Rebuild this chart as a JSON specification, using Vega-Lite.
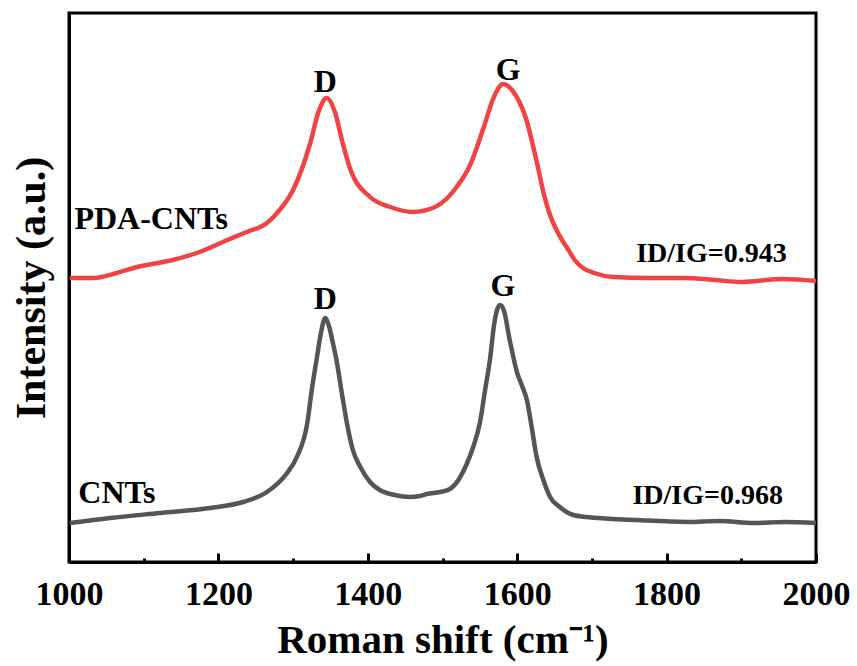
{
  "$schema": "https://vega.github.io/schema/vega-lite/v6.json",
  "width": 747,
  "height": 549,
  "autosize": {"type": "none"},
  "padding": {"left": 69, "top": 13, "right": 41, "bottom": 104},
  "background": "white",
  "config": {
    "view": {"stroke": "black", "strokeWidth": 3},
    "font": "Liberation Serif"
  },
  "datasets": {
    "spectra": [
      {"shift": 1001, "intensity": 284, "sample": "PDA-CNTs"},
      {"shift": 1032, "intensity": 284, "sample": "PDA-CNTs"},
      {"shift": 1064, "intensity": 289, "sample": "PDA-CNTs"},
      {"shift": 1091, "intensity": 295, "sample": "PDA-CNTs"},
      {"shift": 1139, "intensity": 302, "sample": "PDA-CNTs"},
      {"shift": 1175, "intensity": 310, "sample": "PDA-CNTs"},
      {"shift": 1212, "intensity": 322, "sample": "PDA-CNTs"},
      {"shift": 1238, "intensity": 330, "sample": "PDA-CNTs"},
      {"shift": 1265, "intensity": 339, "sample": "PDA-CNTs"},
      {"shift": 1282, "intensity": 352, "sample": "PDA-CNTs"},
      {"shift": 1300, "intensity": 372, "sample": "PDA-CNTs"},
      {"shift": 1323, "intensity": 419, "sample": "PDA-CNTs"},
      {"shift": 1334, "intensity": 450, "sample": "PDA-CNTs"},
      {"shift": 1345, "intensity": 464, "sample": "PDA-CNTs"},
      {"shift": 1356, "intensity": 450, "sample": "PDA-CNTs"},
      {"shift": 1366, "intensity": 420, "sample": "PDA-CNTs"},
      {"shift": 1376, "intensity": 394, "sample": "PDA-CNTs"},
      {"shift": 1403, "intensity": 365, "sample": "PDA-CNTs"},
      {"shift": 1430, "intensity": 355, "sample": "PDA-CNTs"},
      {"shift": 1460, "intensity": 350, "sample": "PDA-CNTs"},
      {"shift": 1490, "intensity": 355, "sample": "PDA-CNTs"},
      {"shift": 1519, "intensity": 375, "sample": "PDA-CNTs"},
      {"shift": 1537, "intensity": 397, "sample": "PDA-CNTs"},
      {"shift": 1554, "intensity": 432, "sample": "PDA-CNTs"},
      {"shift": 1570, "intensity": 467, "sample": "PDA-CNTs"},
      {"shift": 1581, "intensity": 478, "sample": "PDA-CNTs"},
      {"shift": 1593, "intensity": 472, "sample": "PDA-CNTs"},
      {"shift": 1603, "intensity": 460, "sample": "PDA-CNTs"},
      {"shift": 1612, "intensity": 443, "sample": "PDA-CNTs"},
      {"shift": 1620, "intensity": 420, "sample": "PDA-CNTs"},
      {"shift": 1628, "intensity": 394, "sample": "PDA-CNTs"},
      {"shift": 1635, "intensity": 370, "sample": "PDA-CNTs"},
      {"shift": 1643, "intensity": 349, "sample": "PDA-CNTs"},
      {"shift": 1652, "intensity": 333, "sample": "PDA-CNTs"},
      {"shift": 1660, "intensity": 322, "sample": "PDA-CNTs"},
      {"shift": 1667, "intensity": 314, "sample": "PDA-CNTs"},
      {"shift": 1677, "intensity": 302, "sample": "PDA-CNTs"},
      {"shift": 1688, "intensity": 294, "sample": "PDA-CNTs"},
      {"shift": 1703, "intensity": 289, "sample": "PDA-CNTs"},
      {"shift": 1728, "intensity": 285, "sample": "PDA-CNTs"},
      {"shift": 1778, "intensity": 284, "sample": "PDA-CNTs"},
      {"shift": 1822, "intensity": 284, "sample": "PDA-CNTs"},
      {"shift": 1865, "intensity": 282, "sample": "PDA-CNTs"},
      {"shift": 1898, "intensity": 280, "sample": "PDA-CNTs"},
      {"shift": 1956, "intensity": 283, "sample": "PDA-CNTs"},
      {"shift": 2000, "intensity": 281, "sample": "PDA-CNTs"},
      {"shift": 1001, "intensity": 39, "sample": "CNTs"},
      {"shift": 1055, "intensity": 44, "sample": "CNTs"},
      {"shift": 1122, "intensity": 49, "sample": "CNTs"},
      {"shift": 1189, "intensity": 54, "sample": "CNTs"},
      {"shift": 1233, "intensity": 60, "sample": "CNTs"},
      {"shift": 1265, "intensity": 70, "sample": "CNTs"},
      {"shift": 1292, "intensity": 89, "sample": "CNTs"},
      {"shift": 1305, "intensity": 105, "sample": "CNTs"},
      {"shift": 1319, "intensity": 139, "sample": "CNTs"},
      {"shift": 1325, "intensity": 172, "sample": "CNTs"},
      {"shift": 1332, "intensity": 205, "sample": "CNTs"},
      {"shift": 1337, "intensity": 228, "sample": "CNTs"},
      {"shift": 1343, "intensity": 244, "sample": "CNTs"},
      {"shift": 1348, "intensity": 236, "sample": "CNTs"},
      {"shift": 1353, "intensity": 220, "sample": "CNTs"},
      {"shift": 1359, "intensity": 198, "sample": "CNTs"},
      {"shift": 1365, "intensity": 170, "sample": "CNTs"},
      {"shift": 1372, "intensity": 139, "sample": "CNTs"},
      {"shift": 1380, "intensity": 112, "sample": "CNTs"},
      {"shift": 1390, "intensity": 95, "sample": "CNTs"},
      {"shift": 1403, "intensity": 80, "sample": "CNTs"},
      {"shift": 1416, "intensity": 72, "sample": "CNTs"},
      {"shift": 1436, "intensity": 67, "sample": "CNTs"},
      {"shift": 1456, "intensity": 65, "sample": "CNTs"},
      {"shift": 1470, "intensity": 66, "sample": "CNTs"},
      {"shift": 1479, "intensity": 68, "sample": "CNTs"},
      {"shift": 1497, "intensity": 70, "sample": "CNTs"},
      {"shift": 1510, "intensity": 73, "sample": "CNTs"},
      {"shift": 1523, "intensity": 84, "sample": "CNTs"},
      {"shift": 1533, "intensity": 99, "sample": "CNTs"},
      {"shift": 1542, "intensity": 117, "sample": "CNTs"},
      {"shift": 1550, "intensity": 139, "sample": "CNTs"},
      {"shift": 1557, "intensity": 172, "sample": "CNTs"},
      {"shift": 1564, "intensity": 205, "sample": "CNTs"},
      {"shift": 1569, "intensity": 237, "sample": "CNTs"},
      {"shift": 1573, "intensity": 252, "sample": "CNTs"},
      {"shift": 1577, "intensity": 257, "sample": "CNTs"},
      {"shift": 1582, "intensity": 252, "sample": "CNTs"},
      {"shift": 1590, "intensity": 222, "sample": "CNTs"},
      {"shift": 1600, "intensity": 189, "sample": "CNTs"},
      {"shift": 1606, "intensity": 177, "sample": "CNTs"},
      {"shift": 1613, "intensity": 162, "sample": "CNTs"},
      {"shift": 1620, "intensity": 132, "sample": "CNTs"},
      {"shift": 1626, "intensity": 105, "sample": "CNTs"},
      {"shift": 1635, "intensity": 82, "sample": "CNTs"},
      {"shift": 1644, "intensity": 65, "sample": "CNTs"},
      {"shift": 1657, "intensity": 55, "sample": "CNTs"},
      {"shift": 1675, "intensity": 47, "sample": "CNTs"},
      {"shift": 1693, "intensity": 45, "sample": "CNTs"},
      {"shift": 1760, "intensity": 42, "sample": "CNTs"},
      {"shift": 1827, "intensity": 40, "sample": "CNTs"},
      {"shift": 1871, "intensity": 41, "sample": "CNTs"},
      {"shift": 1916, "intensity": 39, "sample": "CNTs"},
      {"shift": 1958, "intensity": 40, "sample": "CNTs"},
      {"shift": 2000, "intensity": 39, "sample": "CNTs"}
    ],
    "peaks": [
      {"shift": 1343, "intensity": 470, "text": "D"},
      {"shift": 1588, "intensity": 482, "text": "G"},
      {"shift": 1343, "intensity": 253, "text": "D"},
      {"shift": 1581, "intensity": 266, "text": "G"}
    ],
    "names": [
      {"shift": 1110, "intensity": 333, "text": "PDA-CNTs"},
      {"shift": 1064, "intensity": 59, "text": "CNTs"}
    ],
    "ratios": [
      {"shift": 1860, "intensity": 300, "text": "ID/IG=0.943"},
      {"shift": 1855, "intensity": 58, "text": "ID/IG=0.968"}
    ]
  },
  "layer": [
    {
      "data": {"name": "spectra"},
      "mark": {"type": "line", "interpolate": "monotone", "strokeWidth": 4.5},
      "encoding": {
        "x": {
          "field": "shift", "type": "quantitative",
          "scale": {"domain": [1000, 2000], "nice": false},
          "axis": {
            "title": "Roman shift (cm⁻¹)",
            "values": [1000, 1100, 1200, 1300, 1400, 1500, 1600, 1700, 1800, 1900, 2000],
            "labelExpr": "datum.value % 200 === 0 ? datum.value : ''",
            "grid": false,
            "domainColor": "black", "domainWidth": 3,
            "tickColor": "black", "tickWidth": 3,
            "tickSize": {"condition": {"test": "datum.value % 200 === 0", "value": -9}, "value": -4},
            "labelFont": "Liberation Serif", "labelFontWeight": "bold", "labelFontSize": 34, "labelColor": "black",
            "labelPadding": 24, "labelFlush": false, "labelOverlap": false,
            "titleFont": "Liberation Serif", "titleFontWeight": "bold", "titleFontSize": 41, "titleColor": "black",
            "titlePadding": 4
          }
        },
        "y": {
          "field": "intensity", "type": "quantitative",
          "scale": {"domain": [0, 549], "nice": false},
          "axis": {
            "title": "Intensity (a.u.)",
            "ticks": false, "labels": false, "grid": false,
            "domainColor": "black", "domainWidth": 3,
            "titleFont": "Liberation Serif", "titleFontWeight": "bold", "titleFontSize": 42, "titleColor": "black",
            "titlePadding": 16
          }
        },
        "color": {
          "field": "sample", "type": "nominal",
          "scale": {"domain": ["PDA-CNTs", "CNTs"], "range": ["#f04444", "#555555"]},
          "legend": null
        }
      }
    },
    {
      "data": {"name": "peaks"},
      "mark": {"type": "text", "font": "Liberation Serif", "fontWeight": "bold", "fontSize": 32, "baseline": "alphabetic", "align": "center", "color": "black"},
      "encoding": {
        "x": {"field": "shift", "type": "quantitative"},
        "y": {"field": "intensity", "type": "quantitative"},
        "text": {"field": "text"}
      }
    },
    {
      "data": {"name": "names"},
      "mark": {"type": "text", "font": "Liberation Serif", "fontWeight": "bold", "fontSize": 32, "baseline": "alphabetic", "align": "center", "color": "black"},
      "encoding": {
        "x": {"field": "shift", "type": "quantitative"},
        "y": {"field": "intensity", "type": "quantitative"},
        "text": {"field": "text"}
      }
    },
    {
      "data": {"name": "ratios"},
      "mark": {"type": "text", "font": "Liberation Serif", "fontWeight": "bold", "fontSize": 28, "baseline": "alphabetic", "align": "center", "color": "black"},
      "encoding": {
        "x": {"field": "shift", "type": "quantitative"},
        "y": {"field": "intensity", "type": "quantitative"},
        "text": {"field": "text"}
      }
    }
  ]
}
